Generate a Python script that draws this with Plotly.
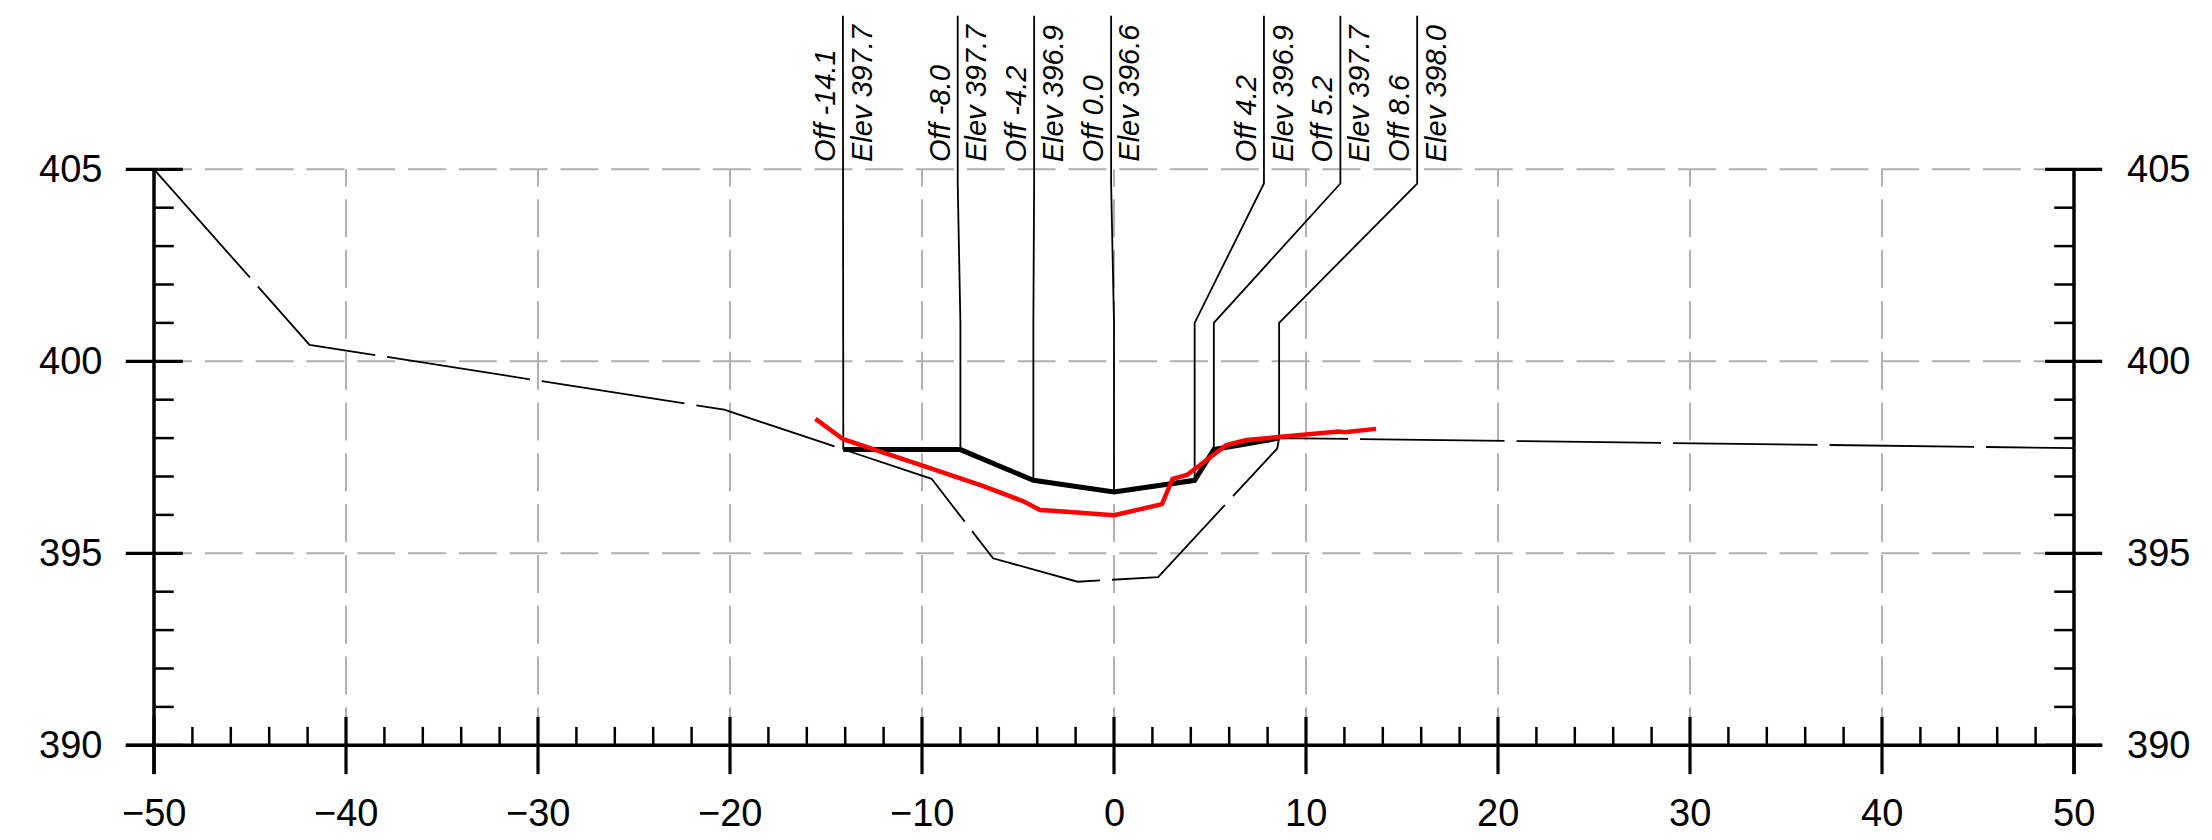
import plotly.graph_objects as go

# ---------------- data ----------------
# existing/original ground (thin long-dash line)
ground_x = [-50, -41.9, -20.3, -14.1, -9.5, -6.3, -1.9, 2.3, 8.5, 8.6, 50]
ground_y = [405, 400.43, 398.74, 397.7, 396.94, 394.87, 394.26, 394.38, 397.73, 398.0, 397.74]

# design section (thick black)
design_off = [-14.1, -8.0, -4.2, 0.0, 4.2, 5.2, 8.6]
design_elev = [397.7, 397.7, 396.9, 396.6, 396.9, 397.7, 398.0]

# surveyed profile (red)
red_x = [-15.55, -14.1, -9.7, -6.8, -4.7, -3.85, -3.2, 0.0, 2.5, 3.05, 3.8, 4.9,
         5.85, 6.9, 8.5, 11.7, 12.0, 13.65]
red_y = [398.5, 397.97, 397.24, 396.75, 396.35, 396.13, 396.11, 395.99, 396.28, 396.94,
         397.04, 397.47, 397.82, 397.95, 398.02, 398.17, 398.15, 398.24]

# label (leader top) positions for the annotation columns
label_x = [-14.12, -8.14, -4.16, -0.15, 7.81, 11.79, 15.79]

# axes / ticks
x_ticks = [-50, -40, -30, -20, -10, 0, 10, 20, 30, 40, 50]
y_ticks = [390, 395, 400, 405]
x_grid = [-40, -30, -20, -10, 0, 10, 20, 30, 40]
y_grid = [395, 400, 405]
x_minor = [v for v in range(-48, 50, 2) if v % 10 != 0]
y_minor = [v for v in range(391, 405) if v % 5 != 0]

# ---------------- geometry of the page ----------------
PX_PER_X = 19.2
PX_PER_Y = 38.4
X0 = -50 - 154 / PX_PER_X
X1 = X0 + 2212 / PX_PER_X
Y1 = 405 + 169.3 / PX_PER_Y
Y0 = Y1 - 840 / PX_PER_Y

LEADER_TOP = 409.0
LEADER_B1 = 404.63
LEADER_B2 = 401.0
LABEL_BASE = 405.16

fig = go.Figure()

# ground line
fig.add_trace(go.Scatter(x=ground_x, y=ground_y, mode="lines",
                         line=dict(color="black", width=1.8, dash="144.5px,12px"),
                         hoverinfo="skip"))

# leaders
lx, ly = [], []
for top, off, el in zip(label_x, design_off, design_elev):
    lx += [top, top, off, off, None]
    ly += [LEADER_TOP, LEADER_B1, LEADER_B2, el, None]
fig.add_trace(go.Scatter(x=lx, y=ly, mode="lines",
                         line=dict(color="black", width=1.8), hoverinfo="skip"))

# design
fig.add_trace(go.Scatter(x=design_off, y=design_elev, mode="lines",
                         line=dict(color="black", width=5), hoverinfo="skip"))

# red profile
fig.add_trace(go.Scatter(x=red_x, y=red_y, mode="lines",
                         line=dict(color="#ff0000", width=4.5), hoverinfo="skip"))

shapes = []
GRID = dict(color="#b0b0b0", width=2, dash="38px,12.8px")
for gx in x_grid:
    shapes.append(dict(type="line", xref="x", yref="y", x0=gx, y0=390, x1=gx, y1=405,
                       line=GRID, layer="below"))
for gy in y_grid:
    shapes.append(dict(type="line", xref="x", yref="y", x0=-50, y0=gy, x1=50, y1=gy,
                       line=GRID, layer="below"))

AX = dict(color="black", width=3.5)
MAJ = dict(color="black", width=3.2)
MIN = dict(color="black", width=2.5)
# axis lines
for ax in (-50, 50):
    shapes.append(dict(type="line", xref="x", yref="y", x0=ax, y0=405, x1=ax, y1=389.25, line=AX))
shapes.append(dict(type="line", xref="x", yref="y", x0=-51.47, y0=390, x1=51.47, y1=390, line=AX))
# x ticks
for t in x_ticks:
    shapes.append(dict(type="line", xref="x", yref="y", x0=t, y0=390.74, x1=t, y1=389.25, line=MAJ))
for t in x_minor:
    shapes.append(dict(type="line", xref="x", yref="y", x0=t, y0=390, x1=t, y1=390.48, line=MIN))
# y ticks
for t in y_ticks:
    shapes.append(dict(type="line", xref="x", yref="y", x0=-51.47, y0=t, x1=-48.5, y1=t, line=MAJ))
    shapes.append(dict(type="line", xref="x", yref="y", x0=48.5, y0=t, x1=51.47, y1=t, line=MAJ))
for t in y_minor:
    shapes.append(dict(type="line", xref="x", yref="y", x0=-50, y0=t, x1=-48.97, y1=t, line=MIN))
    shapes.append(dict(type="line", xref="x", yref="y", x0=48.97, y0=t, x1=50, y1=t, line=MIN))

annotations = []
TICKFONT = dict(family="Liberation Sans", size=38, color="black")
for t in x_ticks:
    txt = ("\u2212" + str(abs(t))) if t < 0 else str(t)
    annotations.append(dict(x=t, y=388.24, xref="x", yref="y", text=txt, showarrow=False,
                            xanchor="center", yanchor="middle", font=TICKFONT, borderpad=0))
for t in y_ticks:
    annotations.append(dict(x=-52.66, y=t, xref="x", yref="y", text=str(t), showarrow=False,
                            xanchor="right", yanchor="middle", font=TICKFONT, borderpad=0))
    annotations.append(dict(x=52.7, y=t, xref="x", yref="y", text=str(t), showarrow=False,
                            xanchor="left", yanchor="middle", font=TICKFONT, borderpad=0))

LABFONT = dict(family="Liberation Sans", size=29, color="black", style="italic")
for top, off, el in zip(label_x, design_off, design_elev):
    annotations.append(dict(x=top - 0.96, y=LABEL_BASE, xref="x", yref="y",
                            text=f"Off {off:.1f}", textangle=-90, showarrow=False,
                            xanchor="center", yanchor="bottom", font=LABFONT, borderpad=0))
    annotations.append(dict(x=top + 0.96, y=LABEL_BASE, xref="x", yref="y",
                            text=f"Elev {el:.1f}", textangle=-90, showarrow=False,
                            xanchor="center", yanchor="bottom", font=LABFONT, borderpad=0))

fig.update_layout(
    width=2212, height=840,
    margin=dict(l=0, r=0, t=0, b=0, pad=0),
    xaxis=dict(range=[X0, X1], visible=False, fixedrange=True),
    yaxis=dict(range=[Y0, Y1], visible=False, fixedrange=True),
    showlegend=False,
    plot_bgcolor="white", paper_bgcolor="white",
    shapes=shapes, annotations=annotations,
)

fig.write_html("out.html", config={"displayModeBar": False},
               post_script="document.body.style.margin='0';document.body.style.overflow='hidden';")
